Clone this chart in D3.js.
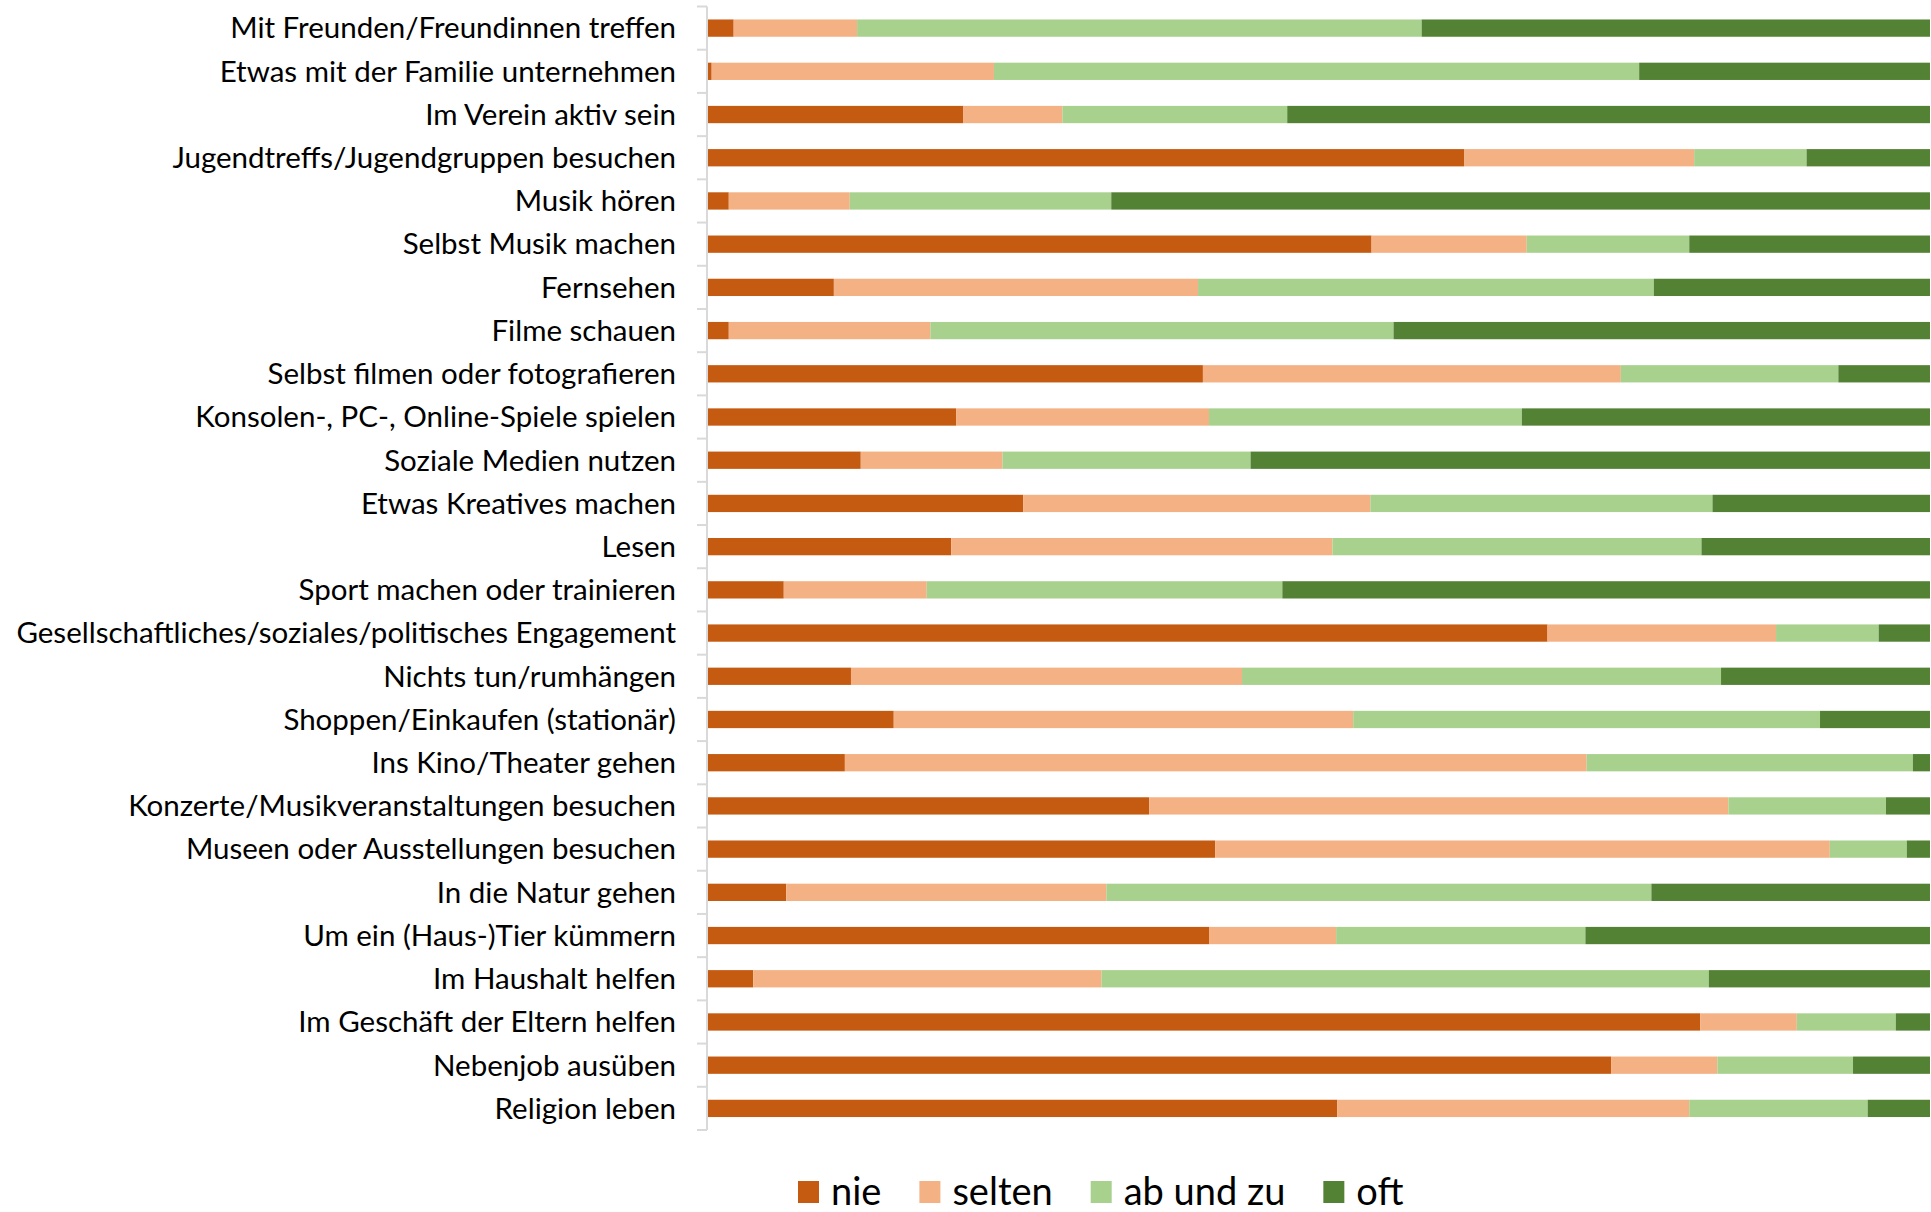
<!DOCTYPE html>
<html>
<head>
<meta charset="utf-8">
<script src="https://cdn.jsdelivr.net/npm/d3@7"></script>
<style>
    html, body { margin: 0; padding: 0; background: #fff; }
    svg { display: block; font-family: Lato, 'Open Sans', sans-serif; }
</style>
</head>
<body>
<svg id="chart" width="1931" height="1212"></svg>
<script>
//
// DATA
//
const categories = [
    'Mit Freunden/Freundinnen treffen',
    'Etwas mit der Familie unternehmen',
    'Im Verein aktiv sein',
    'Jugendtreffs/Jugendgruppen besuchen',
    'Musik hören',
    'Selbst Musik machen',
    'Fernsehen',
    'Filme schauen',
    'Selbst filmen oder fotografieren',
    'Konsolen-, PC-, Online-Spiele spielen',
    'Soziale Medien nutzen',
    'Etwas Kreatives machen',
    'Lesen',
    'Sport machen oder trainieren',
    'Gesellschaftliches/soziales/politisches Engagement',
    'Nichts tun/rumhängen',
    'Shoppen/Einkaufen (stationär)',
    'Ins Kino/Theater gehen',
    'Konzerte/Musikveranstaltungen besuchen',
    'Museen oder Ausstellungen besuchen',
    'In die Natur gehen',
    'Um ein (Haus-)Tier kümmern',
    'Im Haushalt helfen',
    'Im Geschäft der Eltern helfen',
    'Nebenjob ausüben',
    'Religion leben'
]
const seriesNames = ['nie', 'selten', 'ab und zu', 'oft']
// shares in percent, one value per category
const nie = [2.1, 0.3, 20.9, 61.9, 1.7, 54.3, 10.3, 1.7, 40.5, 20.3, 12.5, 25.8, 19.9, 6.2, 68.7, 11.7, 15.2, 11.2, 36.1, 41.5, 6.4, 41.0, 3.7, 81.2, 73.9, 51.5]
const selten = [10.1, 23.1, 8.1, 18.8, 9.9, 12.7, 29.8, 16.5, 34.2, 20.7, 11.6, 28.4, 31.2, 11.7, 18.7, 32.0, 37.6, 60.7, 47.4, 50.3, 26.2, 10.4, 28.5, 7.9, 8.7, 28.8]
const abUndZu = [46.2, 52.8, 18.4, 9.2, 21.4, 13.3, 37.3, 37.9, 17.8, 25.6, 20.3, 28.0, 30.2, 29.1, 8.4, 39.2, 38.2, 26.7, 12.9, 6.3, 44.6, 20.4, 49.7, 8.1, 11.1, 14.6]
const oft = [41.6, 23.8, 52.6, 10.1, 67.0, 19.7, 22.6, 43.9, 7.5, 33.4, 55.6, 17.8, 18.7, 53.0, 4.2, 17.1, 9.0, 1.4, 3.6, 1.9, 22.8, 28.2, 18.1, 2.8, 6.3, 5.1]

//
// GLOBALS
//
const colours = ['#C55A11', '#F4B183', '#A9D18E', '#548235']
const margin = { left: 708, right: 1, top: 6.5, bottom: 82 }
const width = 1931
const height = 1212

const svg = d3.select('#chart')

// build one row object per category for the stack layout
const rows = categories.map((c, i) => ({
    cat: c,
    'nie': nie[i],
    'selten': selten[i],
    'ab und zu': abUndZu[i],
    'oft': oft[i]
}))
const stacked = d3.stack().keys(seriesNames)(rows)

const x = d3.scaleLinear()
    .domain([0, 100])
    .range([margin.left, width - margin.right])

const y = d3.scaleBand()
    .domain(categories)
    .range([margin.top, height - margin.bottom])
    .paddingInner(0.6)
    .paddingOuter(0.3)

// 1) bars
svg.append('g')
    .selectAll('g')
    .data(stacked)
    .join('g')
    .attr('fill', (d, i) => colours[i])
    .selectAll('rect')
    .data(d => d)
    .join('rect')
    .attr('x', d => x(d[0]))
    .attr('y', d => y(d.data.cat))
    .attr('width', d => x(d[1]) - x(d[0]))
    .attr('height', y.bandwidth())

// 2) category axis: vertical line plus ticks between the categories
const step = y.step()
const axisTop = y(categories[0]) - y.paddingOuter() * step
const axisG = svg.append('g').attr('stroke', '#d9d9d9').attr('stroke-width', 2)
axisG.append('line')
    .attr('x1', margin.left - 1)
    .attr('x2', margin.left - 1)
    .attr('y1', axisTop)
    .attr('y2', axisTop + step * categories.length)
axisG.selectAll('line.tick')
    .data(d3.range(categories.length + 1))
    .join('line')
    .attr('class', 'tick')
    .attr('x1', margin.left - 11)
    .attr('x2', margin.left - 1)
    .attr('y1', i => axisTop + i * step)
    .attr('y2', i => axisTop + i * step)

// labels
svg.append('g')
    .selectAll('text')
    .data(categories)
    .join('text')
    .attr('x', margin.left - 32)
    .attr('y', d => y(d) + y.bandwidth() / 2)
    .attr('dy', '0.35em')
    .attr('text-anchor', 'end')
    .attr('font-size', 29.5)
    .attr('fill', '#000')
    .text(d => d)

// 3) legend, laid out left to right
const legend = svg.append('g').attr('transform', 'translate(798, 1192)')
let lx = 0
seriesNames.forEach((name, i) => {
    legend.append('rect')
        .attr('x', lx)
        .attr('y', -11)
        .attr('width', 21)
        .attr('height', 22)
        .attr('fill', colours[i])
    const t = legend.append('text')
        .attr('x', lx + 33)
        .attr('y', 0)
        .attr('dy', '0.33em')
        .attr('font-size', 38)
        .attr('fill', '#000')
        .text(name)
    lx += 33 + t.node().getComputedTextLength() + 38
})
</script>
</body>
</html>
